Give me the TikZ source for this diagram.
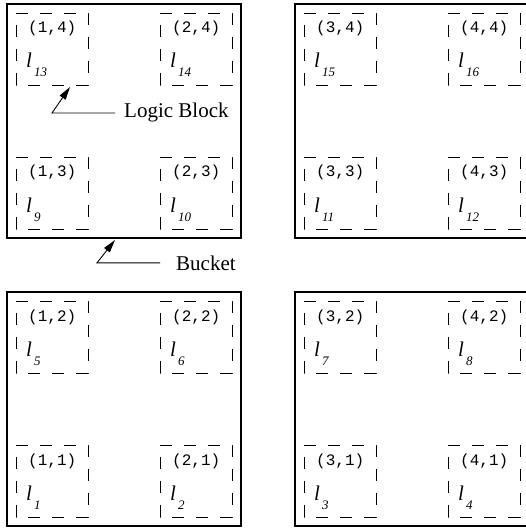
\documentclass[tikz,border=0pt]{standalone}
\usepackage{fontspec}
\setmainfont{Liberation Serif}
\setmonofont{Liberation Mono}
\usetikzlibrary{arrows.meta}

% one logic block: name, top-left x, top-left y, grid coordinate, index
\newcommand\logicblk[5]{%
  \node[blk] (#1) at (#2+36,#3+36) {};
  \draw[blkline] (#1.north west) -- (#1.north east) -- (#1.south east) -- (#1.south west) -- cycle;
  \node[crd] (#1c) at ([xshift=12pt,yshift=-20pt]#1.north west) {(#4)};
  \node[lvar] (#1l) at ([xshift=10pt,yshift=-55pt]#1.north west) {l};
  \node[lsub] (#1s) at ([xshift=18pt,yshift=-64pt]#1.north west) {#5};
}

\begin{document}
\begin{tikzpicture}[x=1pt,y=-1pt,
  bucket/.style={draw, line width=1.6pt, minimum size=234pt, inner sep=0pt, outer sep=0pt},
  blk/.style={minimum size=72pt, inner sep=0pt, outer sep=0pt},
  blkline/.style={line width=0.9pt, dash pattern=on 12pt off 12pt},
  crd/.style={anchor=base west, inner sep=0pt, font=\fontsize{16}{18}\selectfont\ttfamily},
  lvar/.style={anchor=base west, inner sep=0pt, font=\fontsize{21}{24}\selectfont\itshape},
  lsub/.style={anchor=base west, inner sep=0pt, font=\fontsize{13}{15}\selectfont\itshape},
  note/.style={anchor=base west, inner sep=0pt, font=\fontsize{21}{24}\selectfont},
  ptr/.style={line width=0.9pt, -{Triangle[length=13pt,width=7pt]}}]

\useasboundingbox (0,0) rectangle (526,529);

% four buckets
\node[bucket] (bkTL) at (124,121) {};
\node[bucket] (bkTR) at (412,121) {};
\node[bucket] (bkBL) at (124,409) {};
\node[bucket] (bkBR) at (412,409) {};

% logic blocks, row 4 (top) to row 1 (bottom)
\logicblk{b14}{16}{13}{1,4}{13}
\logicblk{b24}{160}{13}{2,4}{14}
\logicblk{b34}{304}{13}{3,4}{15}
\logicblk{b44}{448}{13}{4,4}{16}

\logicblk{b13}{16}{157}{1,3}{9}
\logicblk{b23}{160}{157}{2,3}{10}
\logicblk{b33}{304}{157}{3,3}{11}
\logicblk{b43}{448}{157}{4,3}{12}

\logicblk{b12}{16}{301}{1,2}{5}
\logicblk{b22}{160}{301}{2,2}{6}
\logicblk{b32}{304}{301}{3,2}{7}
\logicblk{b42}{448}{301}{4,2}{8}

\logicblk{b11}{16}{445}{1,1}{1}
\logicblk{b21}{160}{445}{2,1}{2}
\logicblk{b31}{304}{445}{3,1}{3}
\logicblk{b41}{448}{445}{4,1}{4}

% callouts
\node[note] (lb) at (124,118) {Logic Block};
\coordinate (lbtip) at (70,87);
\draw[ptr] ([xshift=-9pt]lb.west) -- ++(-63,0) -- (lbtip);

\node[note] (bk) at (176,270) {Bucket};
\coordinate (bktip) at (115,240);
\draw[ptr] ([xshift=-16pt]bk.west) -- ++(-63,0) -- (bktip);

\end{tikzpicture}
\end{document}
